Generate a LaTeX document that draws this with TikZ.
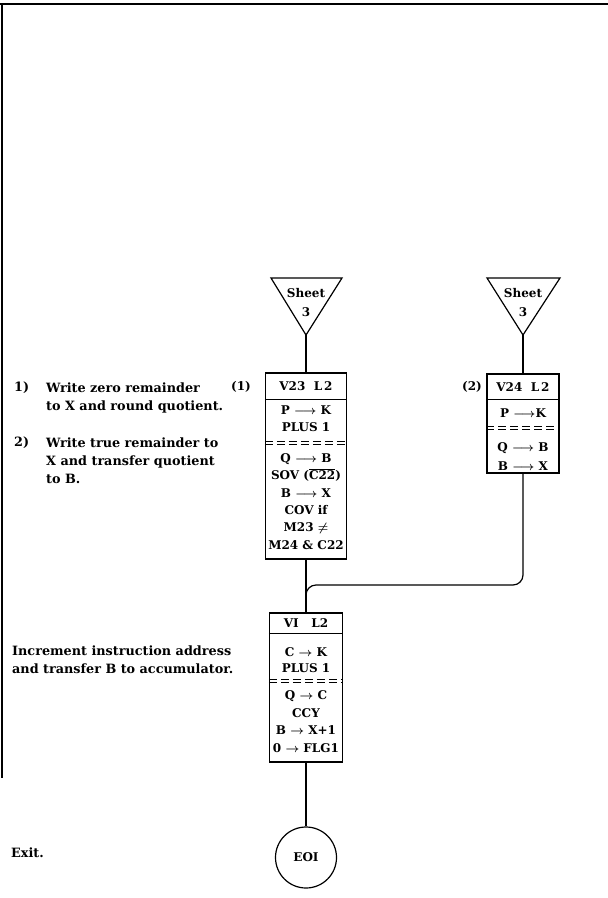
\documentclass[tikz,border=0pt]{standalone}
\usepackage{fontspec}
\setmainfont{DejaVu Serif}
\usetikzlibrary{calc}
\begin{document}
\begin{tikzpicture}[x=1pt,y=-1pt,
  every node/.style={font=\bfseries\boldmath\fontsize{12}{17}\selectfont},
  box/.style={draw,line width=1.2pt,inner sep=0pt},
  conn/.style={line width=1.2pt},
  sep/.style={line width=0.9pt},
  dsep/.style={line width=0.9pt,dash pattern=on 8pt off 4pt},
  txt/.style={inner sep=0pt,align=center},
  note/.style={inner sep=0pt,align=left,anchor=west,font=\bfseries\fontsize{12.8}{18}\selectfont}]
\useasboundingbox (0,0) rectangle (608,898);
% page border
\draw[line width=2pt] (0,4) -- (608,4);
\draw[line width=2pt] (2,4) -- (2,778);
% off-sheet connectors
\draw[line width=1.2pt] (271,278) -- (342,278) -- (306,335) -- cycle;
\coordinate (t1) at (306,335);
\node[txt] (t1a) at (306,293) {Sheet};
\node[txt] (t1b) at (306,312) {3};
\draw[line width=1.2pt] (487,278) -- (560,278) -- (523,335) -- cycle;
\coordinate (t2) at (523,335);
\node[txt] (t2a) at (523,293) {Sheet};
\node[txt] (t2b) at (523,312) {3};
% box 1
\node[box,minimum width=81,minimum height=186] (b1) at (306,466) {};
\draw[sep] (b1.west |- 0,399) -- (b1.east |- 0,399);
\draw[dsep] (b1.west |- 0,441.5) -- (b1.east |- 0,441.5);
\draw[dsep] (b1.west |- 0,444.5) -- (b1.east |- 0,444.5);
\node[txt] (b1h) at (306,386) {V23\ \ L\,2};
\node[txt] (b1a) at (306,418.5) {P $\longrightarrow$ K\\PLUS 1};
\node[txt,font=\bfseries\boldmath\fontsize{12}{17.4}\selectfont] (b1b) at (306,501.5) {Q $\longrightarrow$ B\\SOV ($\overline{\mbox{C22}}$)\\B $\longrightarrow$ X\\COV if\\M23 $\neq$\\M24 \& C22};
\node[txt] (l1) at (241,387) {(1)};
% box 2
\node[box,minimum width=72,minimum height=99] (b2) at (523,423.5) {};
\draw[sep] (b2.west |- 0,399) -- (b2.east |- 0,399);
\draw[dsep] (b2.west |- 0,426) -- (b2.east |- 0,426);
\draw[dsep] (b2.west |- 0,429) -- (b2.east |- 0,429);
\node[txt] (b2h) at (523,387) {V24\ \ L\,2};
\node[txt] (b2a) at (523,413) {P $\longrightarrow$K};
\node[txt,font=\bfseries\boldmath\fontsize{12}{19}\selectfont] (b2b) at (523,456.5) {Q $\longrightarrow$ B\\B $\longrightarrow$ X};
\node[txt] (l2) at (472,387) {(2)};
% box 3
\node[box,minimum width=73,minimum height=149] (b3) at (306,687.5) {};
\draw[sep] (b3.west |- 0,633) -- (b3.east |- 0,633);
\draw[dsep] (b3.west |- 0,679) -- (b3.east |- 0,679);
\draw[dsep] (b3.west |- 0,682) -- (b3.east |- 0,682);
\node[txt] (b3h) at (306,623.5) {VI\ \ \ L2};
\node[txt,font=\bfseries\boldmath\fontsize{12}{16}\selectfont] (b3a) at (306,660) {C $\rightarrow$ K\\PLUS 1};
\node[txt,font=\bfseries\boldmath\fontsize{12}{17.7}\selectfont] (b3b) at (306,721.5) {Q $\rightarrow$ C\\CCY\\B $\rightarrow$ X+1\\0 $\rightarrow$ FLG1};
% terminal
\node[draw,circle,line width=1.2pt,minimum size=61,inner sep=0pt] (eoi) at (306,857.5) {EOI};
% connectors
\draw[conn] (t1) -- (b1.north);
\draw[conn] (t2) -- (b2.north);
\draw[conn] (b1.south) -- (b3.north);
\draw[conn,rounded corners=10] (b2.south) |- (306,585) -- (b3.north);
\draw[conn] (b3.south) -- (eoi.north);
% notes
\node[note] (n1) at (14,388) {1)};
\node[note] (n1t) at (46,397.5) {Write zero remainder\\to X and round quotient.};
\node[note] (n2) at (14,443) {2)};
\node[note] (n2t) at (46,460.5) {Write true remainder to\\X and transfer quotient\\to B.};
\node[note] (n3) at (12,659.5) {Increment instruction address\\and transfer B to accumulator.};
\node[note] (n4) at (11,853) {Exit.};
\end{tikzpicture}
\end{document}
